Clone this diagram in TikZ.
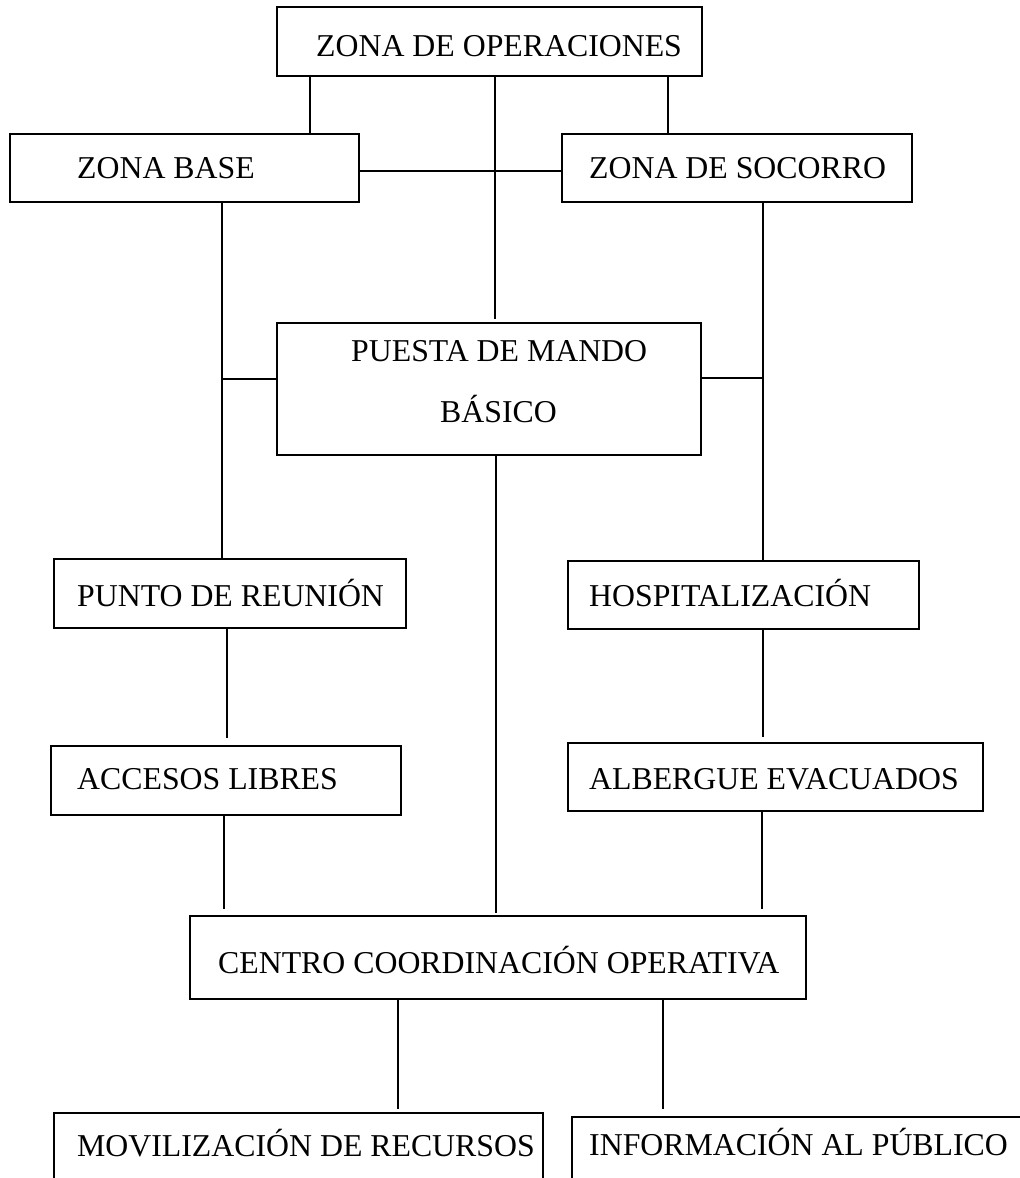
\documentclass[tikz,border=0pt]{standalone}
\usepackage{fontspec}
\setmainfont{Liberation Serif}
\begin{document}
\begin{tikzpicture}[x=1pt,y=-1pt,
  box/.style={draw=black,line width=2.2pt,rectangle,inner sep=0pt},
  lbl/.style={inner sep=0pt,anchor=base west,font=\fontsize{31.8}{38}\selectfont},
  conn/.style={draw=black,line width=1.7pt}]
\useasboundingbox (0,0) rectangle (1020,1178);
\clip (0,0) rectangle (1020,1178);
% boxes
\node[box,minimum width=425pt,minimum height=69pt] (zop) at (489.5,41.5) {};
\node[box,minimum width=349pt,minimum height=68pt] (zbase) at (184.5,168) {};
\node[box,minimum width=350pt,minimum height=68pt] (zsoc) at (737,168) {};
\node[box,minimum width=424pt,minimum height=132pt] (pmb) at (489,389) {};
\node[box,minimum width=352pt,minimum height=69pt] (punto) at (230,593.5) {};
\node[box,minimum width=351pt,minimum height=68pt] (hosp) at (743.5,595) {};
\node[box,minimum width=350pt,minimum height=69pt] (acc) at (226,780.5) {};
\node[box,minimum width=415pt,minimum height=68pt] (alb) at (775.5,777) {};
\node[box,minimum width=616pt,minimum height=83pt] (cco) at (498,957.5) {};
\node[box,minimum width=489pt,minimum height=100pt] (mov) at (298.5,1163) {};
\node[box,minimum width=528pt,minimum height=100pt] (info) at (836,1167) {};
% labels
\node[lbl] (tzop) at (316,56) {ZONA DE OPERACIONES};
\node[lbl] (tzbase) at (77,178) {ZONA BASE};
\node[lbl] (tzsoc) at (589,178) {ZONA DE SOCORRO};
\node[lbl] (tpmb1) at (351,361) {PUESTA DE MANDO};
\node[lbl] (tpmb2) at (440,422) {BÁSICO};
\node[lbl] (tpunto) at (77,606) {PUNTO DE REUNIÓN};
\node[lbl] (thosp) at (589,606) {HOSPITALIZACIÓN};
\node[lbl] (tacc) at (77,789) {ACCESOS LIBRES};
\node[lbl] (talb) at (589,789) {ALBERGUE EVACUADOS};
\node[lbl] (tcco) at (218,973) {CENTRO COORDINACIÓN OPERATIVA};
\node[lbl] (tmov) at (77,1156) {MOVILIZACIÓN DE RECURSOS};
\node[lbl] (tinfo) at (589,1155) {INFORMACIÓN AL PÚBLICO};
% x positions of connectors
\coordinate (xa) at (310,0);
\coordinate (xb) at (668,0);
\coordinate (xc) at (495,0);
\coordinate (xd) at (222,0);
\coordinate (xe) at (763,0);
\coordinate (xf) at (496,0);
\coordinate (xg) at (227,0);
\coordinate (xh) at (224,0);
\coordinate (xi) at (762,0);
\coordinate (xj) at (398,0);
\coordinate (xk) at (663,0);
\coordinate (jl) at (222,379);
\coordinate (jr) at (763,378);
% connectors
\draw[conn] (zop.south -| xa) -- (zbase.north -| xa);
\draw[conn] (zop.south -| xb) -- (zsoc.north -| xb);
\draw[conn,shorten >=3pt] (zop.south -| xc) -- (pmb.north -| xc);
\draw[conn] (zbase.east |- 0,171) -- (zsoc.west |- 0,171);
\draw[conn] (zbase.south -| xd) -- (punto.north -| xd);
\draw[conn] (jl) -- (pmb.west |- jl);
\draw[conn] (zsoc.south -| xe) -- (hosp.north -| xe);
\draw[conn] (pmb.east |- jr) -- (jr);
\draw[conn,shorten >=2pt] (pmb.south -| xf) -- (cco.north -| xf);
\draw[conn,shorten >=7pt] (punto.south -| xg) -- (acc.north -| xg);
\draw[conn,shorten >=5pt] (hosp.south -| xe) -- (alb.north -| xe);
\draw[conn,shorten >=6pt] (acc.south -| xh) -- (cco.north -| xh);
\draw[conn,shorten >=6pt] (alb.south -| xi) -- (cco.north -| xi);
\draw[conn,shorten >=3pt] (cco.south -| xj) -- (mov.north -| xj);
\draw[conn,shorten >=7pt] (cco.south -| xk) -- (info.north -| xk);
\end{tikzpicture}
\end{document}
